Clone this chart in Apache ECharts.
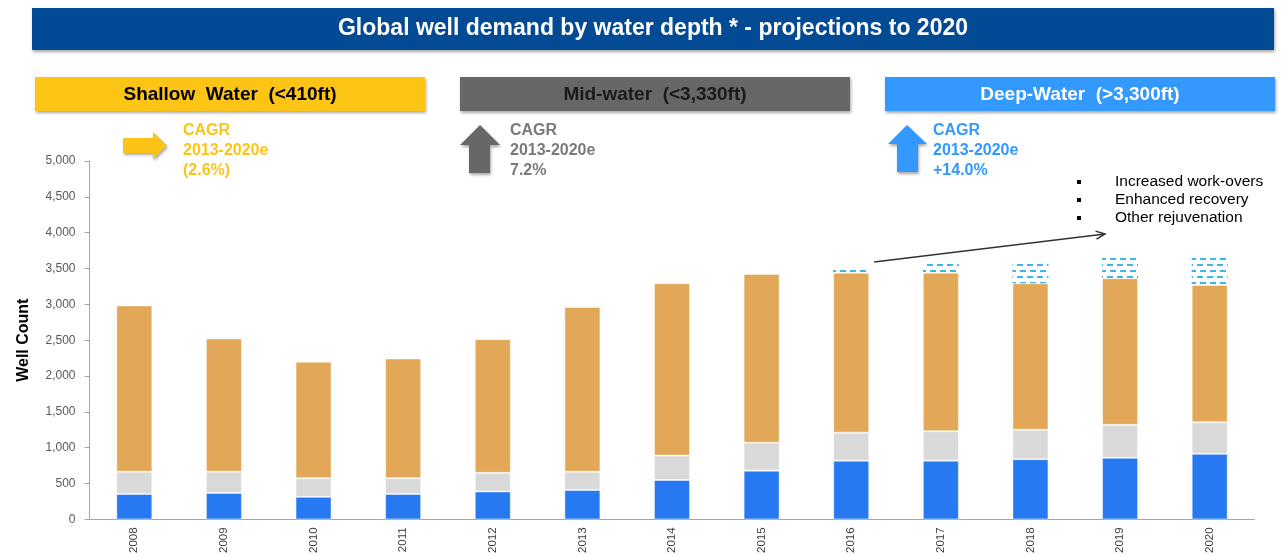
<!DOCTYPE html>
<html>
<head>
<meta charset="utf-8">
<title>Global well demand by water depth</title>
<script src="https://cdn.jsdelivr.net/npm/echarts@6/dist/echarts.min.js"></script>
<style>
  html, body { margin: 0; padding: 0; background: #fff; }
  #chart { width: 1282px; height: 556px; }
</style>
</head>
<body>
<div id="chart"></div>
<script>
// data (well count per year)
const years = ['2008', '2009', '2010', '2011', '2012', '2013', '2014', '2015', '2016', '2017', '2018', '2019', '2020'];
const deepWater = [355, 370, 315, 355, 390, 410, 550, 680, 820, 820, 840, 860, 915];
const midWater = [310, 295, 260, 220, 260, 255, 340, 390, 390, 410, 410, 460, 440];
const shallowWater = [2320, 1860, 1625, 1670, 1865, 2300, 2405, 2355, 2230, 2210, 2045, 2045, 1915];
const rejuvenation = [0, 0, 0, 0, 0, 0, 0, 0, 85, 160, 305, 315, 410];

const yMax = 5000;
const yStep = 500;

const chartTitle = 'Global well demand by water depth * - projections to 2020';
const headers = ['Shallow  Water  (<410ft)', 'Mid-water  (<3,330ft)', 'Deep-Water  (>3,300ft)'];
const cagrTexts = ['CAGR\n2013-2020e\n(2.6%)', 'CAGR\n2013-2020e\n7.2%', 'CAGR\n2013-2020e\n+14.0%'];
const bullets = ['Increased work-overs', 'Enhanced recovery', 'Other rejuvenation'];

const FONT = "'Liberation Sans', Arial, sans-serif";
const shadow = { shadowBlur: 3, shadowOffsetX: 1, shadowOffsetY: 2, shadowColor: 'rgba(0,0,0,0.35)' };

const chart = echarts.init(document.getElementById('chart'), null, { renderer: 'canvas' });

// 頂部標題與三個分類標頭
const headerBoxes = [
  { x: 35, fill: '#FCC515', textColor: '#000' },
  { x: 460, fill: '#676767', textColor: '#1a1a1a' },
  { x: 885, fill: '#3399FF', textColor: '#fff' },
];
const cagrColors = ['#FCC515', '#7a7a7a', '#3399FF'];
const cagrX = [183, 510, 933];

const graphics = [
  {
    type: 'rect',
    shape: { x: 32, y: 8, width: 1242, height: 42 },
    style: Object.assign({ fill: '#034A94' }, shadow),
  },
  {
    type: 'text',
    x: 653, y: 29,
    style: { text: chartTitle, fill: '#fff', font: 'bold 23px ' + FONT, align: 'center', verticalAlign: 'middle' },
  },
];

headerBoxes.forEach((h, i) => {
  graphics.push({
    type: 'rect',
    shape: { x: h.x, y: 77, width: 390, height: 34 },
    style: Object.assign({ fill: h.fill }, shadow),
  });
  graphics.push({
    type: 'text',
    x: h.x + 195, y: 95,
    style: { text: headers[i], fill: h.textColor, font: 'bold 19px ' + FONT, align: 'center', verticalAlign: 'middle' },
  });
  graphics.push({
    type: 'text',
    x: cagrX[i], y: 121,
    style: { text: cagrTexts[i], fill: cagrColors[i], font: 'bold 16px ' + FONT, lineHeight: 20 },
  });
});

// CAGR 箭頭
graphics.push({
  type: 'polygon',
  shape: { points: [[123, 138], [153, 138], [153, 132], [167, 145.5], [153, 159], [153, 153], [123, 153]] },
  style: Object.assign({ fill: '#FCC515' }, shadow),
});
graphics.push({
  type: 'polygon',
  shape: { points: [[480, 125], [500, 145], [490, 145], [490, 173], [469, 173], [469, 145], [460, 145]] },
  style: Object.assign({ fill: '#676767' }, shadow),
});
graphics.push({
  type: 'polygon',
  shape: { points: [[907, 125], [927, 144], [918, 144], [918, 172], [897, 172], [897, 144], [888, 144]] },
  style: Object.assign({ fill: '#3399FF' }, shadow),
});

// 項目符號
bullets.forEach((b, i) => {
  const cy = 182 + i * 18;
  graphics.push({ type: 'rect', shape: { x: 1077, y: cy - 2, width: 4, height: 4 }, style: { fill: '#000' } });
  graphics.push({
    type: 'text',
    x: 1115, y: cy,
    style: { text: b, fill: '#000', font: '15.5px ' + FONT, verticalAlign: 'middle' },
  });
});

// 指向說明文字的箭頭
const a0 = [874, 262];
const a1 = [1105, 234];
const dx = a1[0] - a0[0], dy = a1[1] - a0[1];
const len = Math.sqrt(dx * dx + dy * dy);
const ux = dx / len, uy = dy / len;
graphics.push({ type: 'line', shape: { x1: a0[0], y1: a0[1], x2: a1[0], y2: a1[1] }, style: { stroke: '#333', lineWidth: 1.5 } });
graphics.push({
  type: 'polyline',
  shape: {
    points: [
      [a1[0] - ux * 9 - uy * 4, a1[1] - uy * 9 + ux * 4],
      a1,
      [a1[0] - ux * 9 + uy * 4, a1[1] - uy * 9 - ux * 4],
    ],
  },
  style: { stroke: '#333', lineWidth: 1.5, fill: null },
});

const barBorder = { borderWidth: 1, borderColor: 'rgba(255,255,255,0.45)' };

const option = {
  animation: false,
  backgroundColor: '#fff',
  grid: { left: 89.5, right: 27.5, top: 161, bottom: 35.3 },
  xAxis: {
    type: 'category',
    data: years,
    axisLine: { lineStyle: { color: '#a6a6a6' } },
    axisTick: { length: 5, lineStyle: { color: '#a6a6a6' } },
    axisLabel: { rotate: 90, margin: 8, fontSize: 11.5, color: '#404040', fontFamily: FONT },
  },
  yAxis: {
    type: 'value',
    min: 0,
    max: yMax,
    interval: yStep,
    name: 'Well Count',
    nameLocation: 'middle',
    nameGap: 58,
    nameTextStyle: { fontSize: 16, fontWeight: 'bold', color: '#000', fontFamily: FONT },
    axisLine: { show: true, lineStyle: { color: '#a6a6a6' } },
    axisTick: { show: true, length: 5, lineStyle: { color: '#a6a6a6' } },
    splitLine: { show: false },
    axisLabel: {
      margin: 14,
      fontSize: 12,
      color: '#595959',
      fontFamily: FONT,
      formatter: (v) => v.toLocaleString('en-US'),
    },
  },
  series: [
    {
      name: 'Deep-Water', type: 'bar', stack: 'wells', barWidth: 36,
      itemStyle: Object.assign({ color: '#2679F0' }, barBorder),
      data: deepWater,
    },
    {
      name: 'Mid-water', type: 'bar', stack: 'wells', barWidth: 36,
      itemStyle: Object.assign({ color: '#D9D9D9' }, barBorder),
      data: midWater,
    },
    {
      name: 'Shallow Water', type: 'bar', stack: 'wells', barWidth: 36,
      itemStyle: Object.assign({ color: '#E2A857' }, barBorder),
      data: shallowWater,
    },
    {
      name: 'Rejuvenation', type: 'bar', stack: 'wells', barWidth: 36,
      itemStyle: {
        color: '#fff',
        decal: {
          symbol: 'rect',
          symbolSize: 1,
          color: '#3DB6E8',
          dashArrayX: [[6, 3.5], [3, 3.5, 3, 0]],
          dashArrayY: [1.8, 3.5],
          rotation: 0,
        },
      },
      data: rejuvenation,
    },
  ],
  graphic: graphics,
};

chart.setOption(option);
</script>
</body>
</html>
